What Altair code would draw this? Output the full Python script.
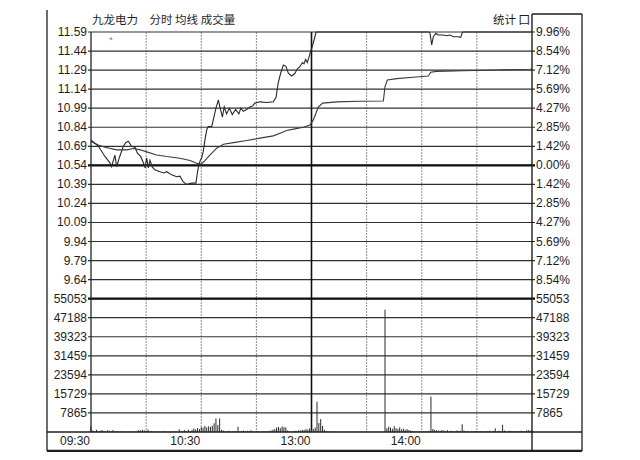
import altair as alt
import pandas as pd

# ---------------- data ----------------
stock_title = "九龙电力　分时 均线 成交量"
stat_label = "统计 囗"

price_ticks = [11.59, 11.44, 11.29, 11.14, 10.99, 10.84, 10.69, 10.54,
               10.39, 10.24, 10.09, 9.94, 9.79, 9.64]
price_labels = ["11.59", "11.44", "11.29", "11.14", "10.99", "10.84", "10.69",
                "10.54", "10.39", "10.24", "10.09", "9.94", "9.79", "9.64"]
pct_labels = ["9.96%", "8.54%", "7.12%", "5.69%", "4.27%", "2.85%", "1.42%",
              "0.00%", "1.42%", "2.85%", "4.27%", "5.69%", "7.12%", "8.54%"]
prev_close = 10.54

vol_ticks = [55053, 47188, 39323, 31459, 23594, 15729, 7865]
vol_labels = ["55053", "47188", "39323", "31459", "23594", "15729", "7865"]

time_ticks = [0, 60, 120, 180]
time_labels = ["09:30", "10:30", "13:00", "14:00"]
half_hour_grid = [30, 60, 90, 150, 180, 210]
lunch_break = [120]

# price trace (minute index from 09:30, price)
price_min = [0, 4, 7.6, 10.3, 11.2, 13, 14, 15.4, 17.6, 19, 20.3, 22.1, 24, 25.2,
             27, 28.5, 29.4, 30.3, 31.2, 32.1, 33.4, 34.8, 37.5, 39.7, 41.2, 43.9,
             46.6, 48.4, 50.2, 52.1, 54.8, 57.1, 57.9, 58.9, 60.2, 61.1, 62, 63,
             63.8, 65.7, 66.6, 68, 69.3, 70.2, 71.5, 72.5, 73.8, 75.3, 76.9, 78.7,
             80.5, 81.5, 82.9, 84.7, 86.5, 88, 89.2, 92, 95.6, 99.2, 100.7, 101.9,
             103.2, 104.7, 106.1, 107.4, 109.2, 111, 112.3, 113.7, 115, 115.9,
             116.8, 117.7, 118.6, 119.5, 120.4, 121.4, 122.4, 123, 184, 184.5,
             185.4, 186.3, 187.7, 189, 191.7, 193.6, 195.4, 197.2, 199.9, 201.2,
             201.9, 202.5, 240]
price_val = [10.74, 10.69, 10.61, 10.56, 10.53, 10.62, 10.53, 10.60, 10.69, 10.72,
             10.73, 10.69, 10.68, 10.635, 10.61, 10.56, 10.52, 10.60, 10.52, 10.58,
             10.525, 10.505, 10.49, 10.48, 10.49, 10.465, 10.45, 10.455, 10.41,
             10.39, 10.40, 10.40, 10.48, 10.56, 10.60, 10.65, 10.74, 10.82, 10.845,
             10.845, 10.90, 10.99, 11.055, 10.997, 10.92, 11.0, 10.945, 10.99,
             10.94, 10.98, 10.945, 10.99, 10.965, 10.98, 11.0, 11.008, 11.03,
             11.04, 11.035, 11.04, 11.076, 11.19, 11.265, 11.33, 11.32, 11.265,
             11.244, 11.265, 11.30, 11.317, 11.35, 11.34, 11.375, 11.35, 11.39,
             11.435, 11.475, 11.527, 11.585, 11.59, 11.59, 11.58, 11.488, 11.553,
             11.58, 11.566, 11.566, 11.56, 11.566, 11.553, 11.553, 11.548, 11.58,
             11.59, 11.59]

# average-price trace
avg_min = [0, 4, 7.6, 14, 19.5, 23.2, 26.8, 30.3, 35.7, 41.2, 48.4, 53.9, 57.5,
           59.7, 61.5, 64.8, 68.4, 72.1, 77.5, 84.7, 92, 99.2, 102.9, 106.5, 111,
           115.5, 119.2, 121, 122.4, 123.7, 126.1, 133.7, 146.4, 159.1, 160,
           161.3, 166.4, 175.4, 183.6, 184.9, 188.1, 202.6, 220.8, 238.9, 240]
avg_val = [10.727, 10.70, 10.683, 10.662, 10.662, 10.672, 10.662, 10.646, 10.622,
           10.609, 10.596, 10.578, 10.557, 10.55, 10.57, 10.622, 10.675, 10.706,
           10.719, 10.735, 10.754, 10.772, 10.793, 10.814, 10.827, 10.84, 10.858,
           10.898, 10.95, 10.998, 11.03, 11.04, 11.045, 11.047, 11.16, 11.212,
           11.223, 11.234, 11.244, 11.273, 11.28, 11.285, 11.291, 11.297, 11.298]

# per-minute volume, minutes 0..240
volume = [
    2200, 600, 400, 900, 300, 500, 800, 400, 300, 700,
    500, 300, 800, 200, 400, 300, 200, 300, 200, 100,
    200, 300, 100, 200, 300, 400, 800, 600, 900, 700,
    500, 1000, 400, 300, 200, 100, 300, 200, 100, 200,
    300, 200, 100, 200, 150, 300, 200, 100, 1100, 300,
    500, 800, 300, 1000, 400, 900, 1400, 1100, 1600, 1200,
    2000, 1800, 2500, 1900, 2300, 2100, 2600, 3600, 5600, 2800,
    5600, 900, 600, 400, 300, 500, 200, 300, 400, 300,
    2200, 300, 400, 600, 300, 500, 400, 700, 300, 200,
    200, 300, 150, 200, 300, 200, 300, 400, 600, 900,
    1200, 1800, 2100, 1600, 2300, 2000, 1900, 600, 300, 200,
    300, 500, 400, 700, 600, 900, 800, 1200, 1000, 1500,
    1300, 1200, 1800, 12500, 3700, 5300, 2500, 900, 400, 300,
    200, 100, 150, 100, 100, 50, 100, 50, 100, 50,
    100, 50, 100, 80, 50, 100, 50, 100, 50, 100,
    50, 100, 80, 60, 100, 50, 100, 60, 80, 100,
    50500, 1500, 2200, 1800, 1300, 2400, 1600, 1200, 1900, 1100,
    1400, 900, 1200, 800, 600, 400, 300, 250, 200, 300,
    200, 250, 300, 200, 500, 14600, 1200, 900, 700, 600,
    500, 800, 600, 400, 700, 300, 500, 400, 300, 600,
    400, 500, 3200, 600, 300, 400, 200, 300, 250, 400,
    300, 200, 300, 250, 200, 400, 300, 500, 300, 400,
    1500, 300, 500, 400, 3000, 600, 400, 300, 500, 400,
    300, 200, 400, 300, 500, 400, 300, 600, 800, 500,
    700,
]

marker_point = {"m": [10.9], "p": [11.527]}

# ---------------- layout ----------------
W, H = 441, 400
STEP = 0.15
ROWS = 21
price_top = price_ticks[0]
PRICE_DOMAIN = [round(price_top - ROWS * STEP, 2), price_top]
VOL_DOMAIN = [0, vol_ticks[0] * ROWS / 7]

NUM_FONT = "Liberation Sans"
CJK_FONT = "Noto Sans CJK SC"
INK = "#1e1e1e"

xs = alt.Scale(domain=[0, 240], nice=False, zero=False)
ysp = alt.Scale(domain=PRICE_DOMAIN, nice=False, zero=False)
ysv = alt.Scale(domain=VOL_DOMAIN, nice=False, zero=False)

X = lambda f="m": alt.X(f + ":Q", scale=xs, axis=None)
YP = lambda f="p": alt.Y(f + ":Q", scale=ysp, axis=None)
YV = lambda f="v": alt.Y(f + ":Q", scale=ysv, axis=None)

one = pd.DataFrame({"k": [0]})


def seg(x1, x2, y1, y2, w=1.2, color=INK):
    return alt.Chart(one).mark_rule(color=color, strokeWidth=w).encode(
        x=alt.value(x1), x2=alt.value(x2), y=alt.value(y1), y2=alt.value(y2))


df_price_ticks = pd.DataFrame({"p": price_ticks, "lab": price_labels, "pct": pct_labels})
df_vol_ticks = pd.DataFrame({"v": vol_ticks, "lab": vol_labels})
df_time = pd.DataFrame({"m": time_ticks, "lab": time_labels})
df_price = pd.DataFrame({"m": price_min, "p": price_val})
df_avg = pd.DataFrame({"m": avg_min, "p": avg_val})
df_vol = pd.DataFrame({"m": list(range(len(volume))), "v": volume})

layers = []

# vertical grid
layers.append(alt.Chart(pd.DataFrame({"m": half_hour_grid})).mark_rule(
    color="#8f8f8f", strokeWidth=1, strokeDash=[2, 1]).encode(
    x=X(), y=alt.value(0), y2=alt.value(H)))

# horizontal price grid
layers.append(alt.Chart(df_price_ticks).mark_rule(color="#303030", strokeWidth=1.2).encode(
    y=YP(), x=alt.value(-3), x2=alt.value(W + 3)))
layers.append(alt.Chart(pd.DataFrame({"p": [prev_close]})).mark_rule(
    color="#111", strokeWidth=2.2).encode(y=YP(), x=alt.value(-3), x2=alt.value(W + 3)))

# horizontal volume grid
layers.append(alt.Chart(df_vol_ticks).mark_rule(color="#303030", strokeWidth=1.2).encode(
    y=YV(), x=alt.value(-3), x2=alt.value(W + 3)))
layers.append(alt.Chart(pd.DataFrame({"v": vol_ticks[:1]})).mark_rule(
    color="#111", strokeWidth=2.4).encode(y=YV(), x=alt.value(-3), x2=alt.value(W + 3)))

# 13:00 divider and left border
layers.append(alt.Chart(pd.DataFrame({"m": lunch_break})).mark_rule(
    color="#111", strokeWidth=1.6).encode(x=X(), y=alt.value(0), y2=alt.value(H)))
layers.append(alt.Chart(pd.DataFrame({"m": time_ticks[:1]})).mark_rule(
    color="#222", strokeWidth=1.3).encode(x=X(), y=alt.value(0), y2=alt.value(H)))

# volume bars
layers.append(alt.Chart(df_vol).mark_rule(color="#2a2a2a", strokeWidth=1).encode(
    x=X(), y=YV(), y2=alt.datum(0)))

# average and price lines
layers.append(alt.Chart(df_avg).mark_line(color="#3a3a3a", strokeWidth=1.1).encode(
    x=X(), y=YP()))
layers.append(alt.Chart(df_price).mark_line(color="#2a2a2a", strokeWidth=1.1).encode(
    x=X(), y=YP()))

# small marker
layers.append(alt.Chart(pd.DataFrame(marker_point)).mark_text(
    text="*", fontSize=9, color="#777", font=NUM_FONT).encode(x=X(), y=YP()))

# left / right labels
num_text = dict(font=NUM_FONT, fontSize=12, color=INK, baseline="middle")
layers.append(alt.Chart(df_price_ticks).mark_text(align="right", **num_text).encode(
    y=YP(), x=alt.value(-4), text="lab:N"))
layers.append(alt.Chart(df_price_ticks).mark_text(align="left", **num_text).encode(
    y=YP(), x=alt.value(W + 4), text="pct:N"))
layers.append(alt.Chart(df_vol_ticks).mark_text(align="right", **num_text).encode(
    y=YV(), x=alt.value(-4), text="lab:N"))
layers.append(alt.Chart(df_vol_ticks).mark_text(align="left", **num_text).encode(
    y=YV(), x=alt.value(W + 4), text="lab:N"))

# time labels
layers.append(alt.Chart(df_time).mark_text(align="right", dx=-1, **num_text).encode(
    x=X(), y=alt.value(H + 9), text="lab:N"))

# header texts
layers.append(alt.Chart(one).mark_text(
    text=stock_title, align="left", baseline="middle", font=CJK_FONT,
    fontSize=11.5, color=INK).encode(x=alt.value(1), y=alt.value(-11)))
layers.append(alt.Chart(one).mark_text(
    text=stat_label, align="right", baseline="middle", font=CJK_FONT,
    fontSize=11.5, color=INK).encode(x=alt.value(W - 2), y=alt.value(-11)))

# frame
layers += [
    seg(-44, -44, -22, 419, 1.3),          # outer left
    seg(491, 491, -18, 419, 1.3),          # outer right
    seg(441, 491, -18, -18, 1.3),          # right box top
    seg(441, 441, -18, 419, 1.4),          # plot right border
    seg(-44, 491, H, H, 1.4),              # axis line
    seg(-44, 491, 419, 419, 2.6),          # bottom frame
]

chart = alt.layer(*layers).resolve_scale(y="independent").properties(
    width=W, height=H,
    autosize=alt.AutoSizeParams(type="none"),
    padding={"left": 83, "top": 24, "right": 92, "bottom": 20},
    background="white",
).configure_view(stroke=None)

chart.save("out.html", embed_options={"renderer": "svg", "actions": False})
